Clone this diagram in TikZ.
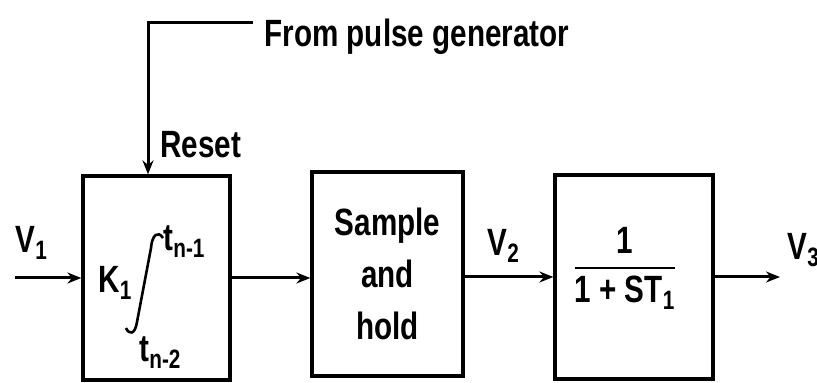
\documentclass[tikz,border=0pt]{standalone}
\usepackage{amsmath}
\usepackage{fontspec}
\setmainfont{Liberation Sans}[FakeStretch=0.78]
\usetikzlibrary{arrows.meta,calc}

\tikzset{
  block/.style={draw, line width=1.6pt, minimum width=#1, minimum height=102pt, inner sep=0pt},
  lbl/.style={anchor=base west, inner sep=0pt}
}

\begin{document}
\begin{tikzpicture}[x=0.5pt, y=-0.5pt, >={Stealth[length=7pt,width=5.5pt]}, line width=1.5pt,
    font=\fontsize{19}{26}\selectfont\bfseries]
    \useasboundingbox (0,0) rectangle (817,383);

    % Blocks
    \node[block=73.5pt] (integ) at (156.5,278) {};
    \node[block=75.5pt, align=center] (sh) at (387.5,274) {Sample\\and\\hold};
    \node[block=79pt] (lag) at (634,277) {};

    % Integrator contents
    \node[lbl] (k1) at (97,293) {K\textsubscript{1}};
    \draw[line width=1.3pt] (163,238) .. controls (158,230) and (152,235) .. (151,248)
        -- (137,322) .. controls (135,335) and (129,335) .. (126,328);
    \node[lbl] (tup) at (162,251) {t\textsubscript{n-1}};
    \node[lbl] (tlo) at (138,362) {t\textsubscript{n-2}};

    % Lag contents
    \node (frac) at (625,268) {$\genfrac{}{}{1.2pt}{0}{\mbox{1}}{\mbox{1 + ST\textsubscript{1}}}$};

    % Signal path
    \coordinate (in) at (15,278);
    \coordinate (out) at (780,277);
    \draw[->] (in) -- (integ.west);
    \draw[->] (integ) -- (sh.west |- integ.east);
    \draw[->] (sh.east |- lag.west) -- (lag.west);
    \draw[->] (lag) -- (out);

    % Reset from pulse generator
    \coordinate (pg) at (253,23);
    \node[lbl] (pulse) at (263,47) {From pulse generator};
    \draw[->] (pg) -| ($(integ.north)+(-8.5,0)$);
    \node[lbl] (reset) at (159,158) {Reset};

    % Signal labels
    \node[lbl] (v1) at (14,253) {V\textsubscript{1}};
    \node[lbl] (v2) at (486,256) {V\textsubscript{2}};
    \node[lbl] (v3) at (786,260) {V\textsubscript{3}};
\end{tikzpicture}
\end{document}
